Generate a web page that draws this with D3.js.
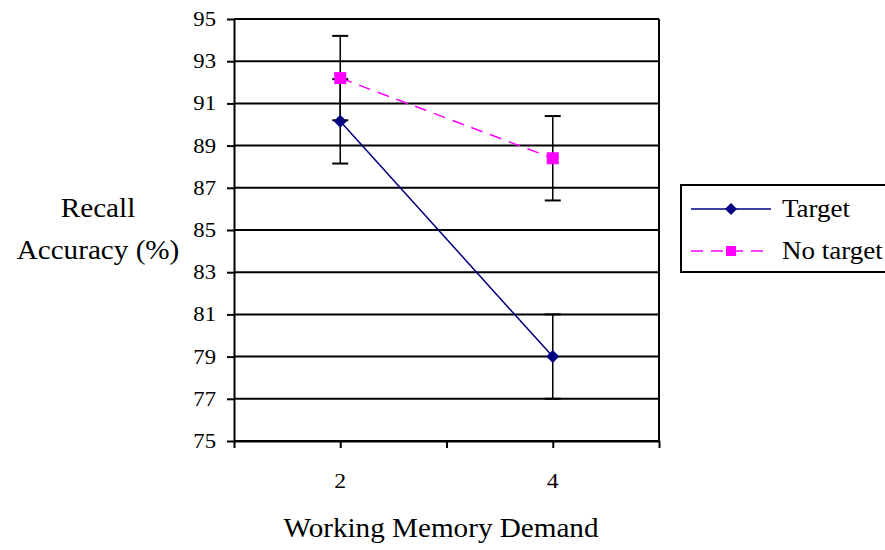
<!DOCTYPE html>
<html>
<head>
<meta charset="utf-8">
<script src="https://cdn.jsdelivr.net/npm/d3@7"></script>
</head>
<body style="margin:0">
<svg id="chart" width="885" height="550"></svg>
<script>
// data
const demand = [2, 4];
const targetAcc = [90.15, 79.0];
const targetErr = [2.0, 2.0];
const noTargetAcc = [92.2, 88.4];
const noTargetErr = [2.0, 2.0];
const yTicks = [75, 77, 79, 81, 83, 85, 87, 89, 91, 93, 95];
const xTicks = [1, 2, 3, 4, 5];
const seriesNames = ["Target", "No target"];

const FONT = "Liberation Serif";
const svg = d3.select("#chart");
const plotL = 234, plotR = 659, plotT = 19, plotB = 441;

const x = d3.scaleLinear().domain([1, 5]).range([plotL, plotR]);
const y = d3.scaleLinear().domain([75, 95]).range([plotB, plotT]);

// gridlines
svg.append("g")
  .selectAll("line")
  .data(yTicks)
  .join("line")
  .attr("x1", plotL).attr("x2", plotR)
  .attr("y1", d => y(d)).attr("y2", d => y(d))
  .attr("stroke", "#000").attr("stroke-width", 2);

// right border of plot
svg.append("line")
  .attr("x1", plotR).attr("x2", plotR)
  .attr("y1", plotT).attr("y2", plotB)
  .attr("stroke", "#000").attr("stroke-width", 2);

// y axis (labels drawn separately)
const yAxis = svg.append("g")
  .attr("transform", `translate(${plotL},0)`)
  .call(d3.axisLeft(y).tickValues(yTicks).tickSize(7).tickFormat("").tickSizeOuter(0));
yAxis.select(".domain").attr("stroke-width", 2);
yAxis.selectAll(".tick line").attr("stroke-width", 2);

// x axis
const xAxis = svg.append("g")
  .attr("transform", `translate(0,${plotB})`)
  .call(d3.axisBottom(x).tickValues(xTicks).tickSize(7).tickFormat("").tickSizeOuter(0));
xAxis.select(".domain").attr("stroke-width", 2);
xAxis.selectAll(".tick line").attr("stroke-width", 2);

// text is a bit wider than plain Times in the original
function label(txt, tx, ty, size, anchor) {
  return svg.append("g")
    .attr("transform", `translate(${tx},${ty}) scale(1.08,1)`)
    .append("text")
    .attr("text-anchor", anchor || "middle")
    .attr("font-family", FONT)
    .attr("font-size", size)
    .attr("fill", "#000")
    .text(txt);
}

yTicks.forEach(t => label(String(t), plotL - 18, y(t) + 7, 21, "end"));
demand.forEach(d => label(String(d), x(d), 488, 22));

// error bars
const capW = 8;
function errorBars(vals, errs) {
  const g = svg.append("g").attr("stroke", "#000").attr("stroke-width", 1.5);
  demand.forEach((d, i) => {
    const lo = y(vals[i] - errs[i]), hi = y(vals[i] + errs[i]), cx = x(d);
    g.append("line").attr("x1", cx).attr("x2", cx).attr("y1", lo).attr("y2", hi);
    g.append("line").attr("x1", cx - capW).attr("x2", cx + capW).attr("y1", lo).attr("y2", lo).attr("stroke-width", 2);
    g.append("line").attr("x1", cx - capW).attr("x2", cx + capW).attr("y1", hi).attr("y2", hi).attr("stroke-width", 2);
  });
}
errorBars(targetAcc, targetErr);
errorBars(noTargetAcc, noTargetErr);

const line = d3.line().x(d => x(d[0])).y(d => y(d[1]));

// No target (dashed magenta, squares)
svg.append("path")
  .datum(d3.zip(demand, noTargetAcc))
  .attr("d", line)
  .attr("fill", "none")
  .attr("stroke", "#ff00ff")
  .attr("stroke-width", 1.5)
  .attr("stroke-dasharray", "12,8");
svg.append("g")
  .selectAll("rect")
  .data(d3.zip(demand, noTargetAcc))
  .join("rect")
  .attr("x", d => x(d[0]) - 6).attr("y", d => y(d[1]) - 6)
  .attr("width", 12).attr("height", 12)
  .attr("fill", "#ff00ff");

// Target (solid navy, diamonds)
svg.append("path")
  .datum(d3.zip(demand, targetAcc))
  .attr("d", line)
  .attr("fill", "none")
  .attr("stroke", "#000080")
  .attr("stroke-width", 1.5);
const diamond = "M0,-6.5L6.5,0L0,6.5L-6.5,0Z";
svg.append("g")
  .selectAll("path")
  .data(d3.zip(demand, targetAcc))
  .join("path")
  .attr("d", diamond)
  .attr("transform", d => `translate(${x(d[0])},${y(d[1])})`)
  .attr("fill", "#000080");

// axis titles
label("Working Memory Demand", 441, 537, 27);
label("Recall", 98, 217, 27);
label("Accuracy (%)", 98, 259, 27);

// legend
const lg = svg.append("g");
lg.append("rect")
  .attr("x", 681).attr("y", 185)
  .attr("width", 220).attr("height", 87)
  .attr("fill", "#fff").attr("stroke", "#000").attr("stroke-width", 2);
const rows = [
  {name: seriesNames[0], color: "#000080", dash: null, cy: 209},
  {name: seriesNames[1], color: "#ff00ff", dash: "12,8", cy: 251}
];
rows.forEach((r, i) => {
  lg.append("line")
    .attr("x1", 691).attr("x2", 771)
    .attr("y1", r.cy).attr("y2", r.cy)
    .attr("stroke", r.color).attr("stroke-width", 1.5)
    .attr("stroke-dasharray", r.dash);
  if (i === 0) {
    lg.append("path").attr("d", "M0,-6L6,0L0,6L-6,0Z")
      .attr("transform", `translate(731,${r.cy})`).attr("fill", r.color);
  } else {
    lg.append("rect").attr("x", 726).attr("y", r.cy - 5)
      .attr("width", 10).attr("height", 10).attr("fill", r.color);
  }
  label(r.name, 782, r.cy + 8, 25, "start");
});
</script>
</body>
</html>
